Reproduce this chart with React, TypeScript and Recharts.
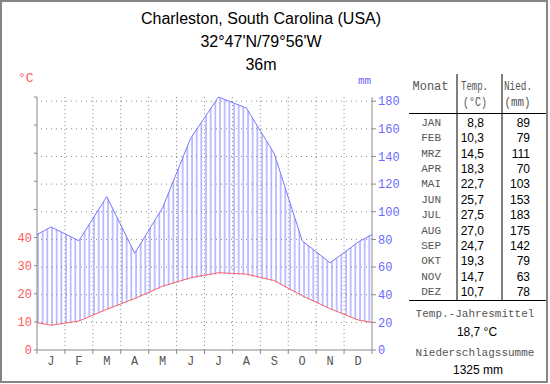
import { ComposedChart, Area, Line, XAxis, YAxis, ReferenceLine } from 'recharts'

const monthLetters = ['J', 'F', 'M', 'A', 'M', 'J', 'J', 'A', 'S', 'O', 'N', 'D']
const monthNames = ['JAN', 'FEB', 'MRZ', 'APR', 'MAI', 'JUN', 'JUL', 'AUG', 'SEP', 'OKT', 'NOV', 'DEZ']
const temperature = [8.8, 10.3, 14.5, 18.3, 22.7, 25.7, 27.5, 27.0, 24.7, 19.3, 14.7, 10.7]
const precipitation = [89, 79, 111, 70, 103, 153, 183, 175, 142, 79, 63, 78]
const tempTicks = [0, 10, 20, 30, 40, 50, 60, 70, 80, 90]
const precipTicks = [0, 20, 40, 60, 80, 100, 120, 140, 160, 180]
const titleLines = ['Charleston, South Carolina (USA)', "32°47'N/79°56'W", '36m']
const annualMean = '18,7 °C'
const annualSum = '1325 mm'

// the curves wrap around: at the year edges they meet halfway between DEZ and JAN
const edgeTemp = (temperature[0] + temperature[11]) / 2
const edgePrecip = (precipitation[0] + precipitation[11]) / 2

const data = [
  { x: 0, temp: edgeTemp, precip: edgePrecip },
  ...temperature.map((t, i) => ({ x: i + 0.5, temp: t, precip: precipitation[i] })),
  { x: 12, temp: edgeTemp, precip: edgePrecip },
]

const xTicks = Array.from({ length: 25 }, (_, i) => i / 2)
const boundaries = Array.from({ length: 11 }, (_, i) => i + 1)

const MONO = '"Liberation Mono", "Courier New", monospace'
const SANS = '"Liberation Sans", Arial, sans-serif'
const AXIS = '#8a8a8a'
const RED = '#ff5a5a'
const BLUE = '#6a6aff'
const MONO_TEXT = '#555'

const fmt = (v: number) => v.toFixed(1).replace('.', ',')

function MonthTick(props: any) {
  const { x, y, payload } = props
  const v = payload.value
  if (Number.isInteger(v)) {
    return <line x1={x} x2={x} y1={y - 4} y2={y} stroke={AXIS} />
  }
  return (
    <text x={x} y={y + 8} textAnchor="middle" dominantBaseline="central" fontFamily={MONO} fontSize={12} fill={MONO_TEXT}>
      {monthLetters[Math.floor(v)]}
    </text>
  )
}

function Overlay() {
  const rowY = (i: number) => 122.7 + i * 15.42
  return (
    <svg width={550} height={384} style={{ position: 'absolute', left: 0, top: 0, pointerEvents: 'none' }}>
      <rect x={1} y={1} width={546} height={381} fill="none" stroke="#858585" strokeWidth={2} />
      {titleLines.map((t, i) => (
        <text key={i} x={261} y={18 + i * 23} textAnchor="middle" dominantBaseline="central" fontFamily={SANS} fontSize={16} fill="#000">
          {t}
        </text>
      ))}
      <text x={18} y={78} dominantBaseline="central" fontFamily={MONO} fontSize={13} fill={RED}>°C</text>
      <text x={358} y={81} dominantBaseline="central" fontFamily={MONO} fontSize={11} fill={BLUE}>mm</text>

      <g stroke="#000" strokeWidth={1}>
        <line x1={457} x2={457} y1={74} y2={300} />
        <line x1={502} x2={502} y1={74} y2={300} />
        <line x1={409} x2={546} y1={113.5} y2={113.5} />
        <line x1={409} x2={546} y1={300.5} y2={300.5} />
      </g>
      <g fontFamily={MONO} fontSize={12} fill={MONO_TEXT} dominantBaseline="central">
        <text x={430.5} y={87} textAnchor="middle">Monat</text>
        <text x={474.5} y={87} textAnchor="middle" textLength={27} lengthAdjust="spacingAndGlyphs">Temp.</text>
        <text x={475} y={103} textAnchor="middle" textLength={24} lengthAdjust="spacingAndGlyphs">(°C)</text>
        <text x={518} y={87} textAnchor="middle" textLength={28} lengthAdjust="spacingAndGlyphs">Nied.</text>
        <text x={517.5} y={103} textAnchor="middle" textLength={26} lengthAdjust="spacingAndGlyphs">(mm)</text>
      </g>
      {monthNames.map((m, i) => (
        <g key={m} dominantBaseline="central">
          <text x={441} y={rowY(i)} textAnchor="end" fontFamily={MONO} fontSize={11} fill={MONO_TEXT}>{m}</text>
          <text x={484} y={rowY(i)} textAnchor="end" fontFamily={SANS} fontSize={12} fill="#000">{fmt(temperature[i])}</text>
          <text x={530} y={rowY(i)} textAnchor="end" fontFamily={SANS} fontSize={12} fill="#000">{precipitation[i]}</text>
        </g>
      ))}
      <g textAnchor="middle" dominantBaseline="central">
        <text x={475} y={314} fontFamily={MONO} fontSize={11} fill={MONO_TEXT}>Temp.-Jahresmittel</text>
        <text x={477} y={331.5} fontFamily={SANS} fontSize={12} fill="#000">{annualMean}</text>
        <text x={475} y={353} fontFamily={MONO} fontSize={11} fill={MONO_TEXT}>Niederschlagssumme</text>
        <text x={478} y={370} fontFamily={SANS} fontSize={12} fill="#000">{annualSum}</text>
      </g>
    </svg>
  )
}

export default function App() {
  return (
    <div style={{ position: 'absolute', left: 0, top: 0, width: 550, height: 384, background: '#fff' }}>
      <ComposedChart width={550} height={384} data={data} margin={{ top: 97, right: 148, bottom: 4, left: 7 }}>
        <defs>
          <pattern id="hatch" patternUnits="userSpaceOnUse" x={37} y={0} width={28 / 6} height={8}>
            <line x1={1} x2={1} y1={0} y2={8} stroke="#8484ff" strokeWidth={1} />
          </pattern>
        </defs>
        <XAxis
          dataKey="x"
          type="number"
          domain={[0, 12]}
          ticks={xTicks}
          interval={0}
          tickSize={4}
          tickMargin={0}
          tickLine={false}
          tick={<MonthTick />}
          height={30}
          axisLine={{ stroke: AXIS }}
        />
        <YAxis
          yAxisId="left"
          domain={[0, 90]}
          ticks={tempTicks}
          interval={0}
          width={30}
          tickSize={3}
          tickMargin={2}
          tickFormatter={(v: number) => (v <= 40 ? String(v) : '')}
          tick={{ fill: RED, fontSize: 12, fontFamily: MONO }}
          axisLine={{ stroke: AXIS }}
          tickLine={{ stroke: AXIS }}
        />
        <YAxis
          yAxisId="right"
          orientation="right"
          domain={[0, 180]}
          ticks={precipTicks}
          interval={0}
          width={30}
          tickSize={4}
          tickMargin={2}
          tick={{ fill: BLUE, fontSize: 12, fontFamily: MONO, textAnchor: 'start' }}
          axisLine={{ stroke: AXIS }}
          tickLine={{ stroke: AXIS }}
        />
        <Area
          yAxisId="right"
          type="linear"
          dataKey={(d: any) => [d.temp * 2, d.precip]}
          fill="url(#hatch)"
          fillOpacity={1}
          stroke="none"
          isAnimationActive={false}
          activeDot={false}
        />
        {precipTicks.slice(1).map((v) => (
          <ReferenceLine key={'h' + v} yAxisId="right" y={v} stroke="#8a8a8a" strokeDasharray="1 4" />
        ))}
        {boundaries.map((v) => (
          <ReferenceLine key={'v' + v} yAxisId="right" x={v} stroke="#8a8a8a" strokeDasharray="1 3" />
        ))}
        <Line yAxisId="right" type="linear" dataKey="precip" stroke="#7878ff" strokeWidth={1} dot={false} isAnimationActive={false} />
        <Line yAxisId="left" type="linear" dataKey="temp" stroke="#ff6464" strokeWidth={1} dot={false} isAnimationActive={false} />
      </ComposedChart>
      <Overlay />
    </div>
  )
}
